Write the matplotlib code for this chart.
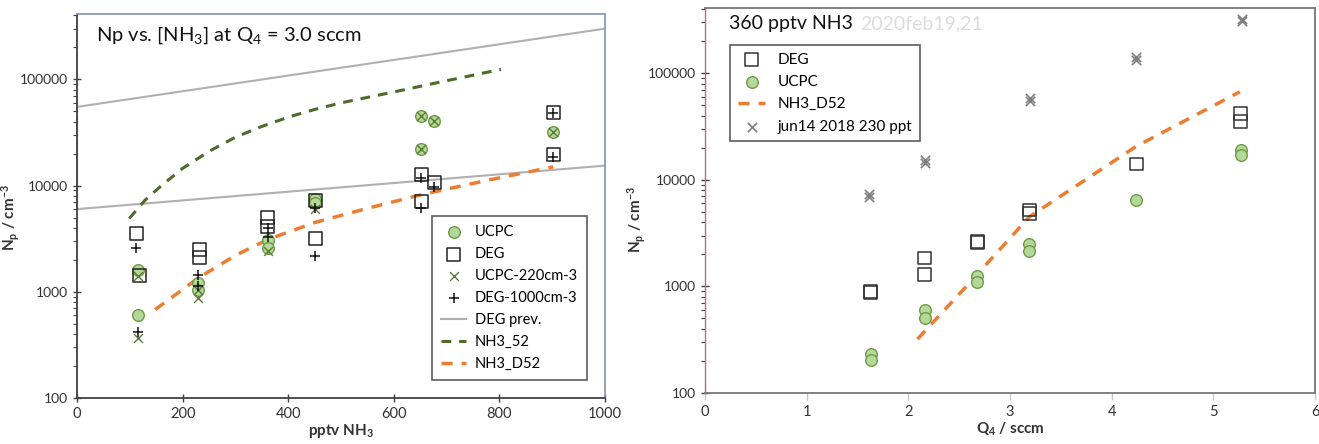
import numpy as np
import matplotlib
matplotlib.use("Agg")
import matplotlib.pyplot as plt
from matplotlib.ticker import FixedLocator, FuncFormatter, LogLocator, NullFormatter

plt.rcParams['font.family'] = ['Lato', 'DejaVu Sans']
plt.rcParams['mathtext.fontset'] = 'custom'
plt.rcParams['mathtext.rm'] = 'Lato'
plt.rcParams['mathtext.it'] = 'Lato:italic'
plt.rcParams['mathtext.bf'] = 'Lato:bold'

# ---- left panel: Np vs NH3 at Q4 = 3.0 sccm ----
ucpc_x = [115, 115, 230, 230, 361, 361, 451, 451, 652, 652, 677, 902]
ucpc_y = [1620, 600, 1210, 1050, 3100, 2600, 7400, 6800, 45000, 22000, 40500, 32000]

deg_x = [112, 118, 232, 232, 361, 361, 451, 451, 652, 652, 677, 902, 902]
deg_y = [3530, 1420, 2500, 2090, 5040, 4150, 7200, 3150, 12800, 7100, 10700, 49000, 19500]

ucpc220_x = [115, 115, 230, 230, 361, 451, 652, 652, 677, 902]
ucpc220_y = [370, 1420, 880, 1050, 2400, 6000, 45000, 22000, 40500, 32000]

deg1000_x = [112, 115, 230, 230, 361, 361, 451, 451, 652, 652, 677, 902, 902]
deg1000_y = [2580, 420, 1450, 1130, 4000, 3300, 6200, 2150, 11800, 6100, 9700, 48000, 18500]

degprev_x = [1000, 0, 0, 1000]
degprev_y = [15400, 6000, 55000, 300000]

nh3_52_x = [99, 129, 160, 200, 250, 300, 350, 400, 450, 500, 600, 700, 803]
nh3_52_y = [4900, 7300, 10000, 14500, 21000, 28500, 36000, 44000, 52000, 60000, 76000, 97000, 124000]

nh3_d52_x = [148, 230, 300, 361, 451, 550, 652, 777, 902]
nh3_d52_y = [680, 1350, 2200, 3100, 4500, 6100, 8200, 11200, 15000]

# ---- right panel: 360 pptv NH3 ----
q_deg = [1.63, 1.63, 2.16, 2.16, 2.68, 2.68, 3.19, 3.19, 4.24, 5.27, 5.27]
r_deg = [900, 880, 1850, 1300, 2600, 2620, 5200, 4800, 14100, 42000, 35000]

q_ucpc = [1.63, 1.63, 2.16, 2.16, 2.68, 2.68, 3.19, 3.19, 4.24, 5.27, 5.27]
r_ucpc = [230, 205, 600, 500, 1260, 1100, 2500, 2170, 6500, 19200, 17100]

q_d52 = [2.09, 2.57, 3.19, 4.24, 5.26]
r_d52 = [320, 1000, 4500, 20600, 67000]

q_jun = [1.61, 1.61, 2.16, 2.16, 3.20, 3.20, 4.24, 4.24, 5.28, 5.28]
r_jun = [7300, 6900, 15200, 14400, 58500, 55500, 142000, 134000, 325000, 307000]

green_face = '#b4d79a'
green_edge = '#6f9a45'
orange = '#ed7d31'
olive = '#4f6a2b'
tick_col = '#404040'

fig = plt.figure(figsize=(13.19, 4.44), dpi=100)
ax1 = fig.add_axes([0.0584, 0.1036, 0.4003, 0.8644])
ax2 = fig.add_axes([0.5345, 0.1150, 0.4625, 0.8670])

dash = (0, (3.2, 2.6))

# left
ax1.plot(degprev_x, degprev_y, color='#b0b0b0', lw=1.5, label='DEG prev.', zorder=1)
ax1.plot(nh3_52_x, nh3_52_y, color=olive, lw=2.2, linestyle=dash, label='NH3_52', zorder=2)
ax1.plot(nh3_d52_x, nh3_d52_y, color=orange, lw=2.5, linestyle=dash, label='NH3_D52', zorder=2)
ax1.scatter(ucpc_x, ucpc_y, s=70, marker='o', facecolor=green_face,
            edgecolor=green_edge, linewidth=1.0, label='UCPC', zorder=3)
ax1.scatter(deg_x, deg_y, s=85, marker='s', facecolor='none',
            edgecolor='#222222', linewidth=1.1, label='DEG', zorder=4)
ax1.scatter(ucpc220_x, ucpc220_y, s=40, marker='x', color='#5b7a35',
            linewidth=1.0, label='UCPC-220cm-3', zorder=5)
ax1.scatter(deg1000_x, deg1000_y, s=50, marker='+', color='#111111',
            linewidth=1.1, label='DEG-1000cm-3', zorder=5)

handles, labels = ax1.get_legend_handles_labels()
order = ['UCPC', 'DEG', 'UCPC-220cm-3', 'DEG-1000cm-3', 'DEG prev.', 'NH3_52', 'NH3_D52']
hd = dict(zip(labels, handles))
leg1 = ax1.legend([hd[k] for k in order], order, loc='lower right',
                  bbox_to_anchor=(0.979, 0.028), fontsize=10.5, frameon=True,
                  fancybox=False, edgecolor='#333333', handlelength=1.7,
                  handletextpad=0.6, labelspacing=0.55, borderpad=0.6)
leg1.get_frame().set_linewidth(1.2)

ax1.set_xlim(0, 1000)
ax1.set_yscale('log')
ax1.set_ylim(100, 4.1e5)
ax1.text(0.036, 0.944, r'Np vs. [NH$_3$] at Q$_4$ = 3.0 sccm', transform=ax1.transAxes,
         fontsize=14.5, va='center', ha='left', color='#111111')
ax1.set_xlabel(r'pptv NH$_\mathbf{3}$', fontsize=11, fontweight='bold',
               color='#333333', labelpad=1)
ax1.set_ylabel(r'N$_\mathbf{p}$ / cm$^\mathbf{-3}$', fontsize=11, fontweight='bold',
               color='#333333')
ax1.yaxis.set_label_coords(-0.105, 0.47)

# right
h_rdeg = ax2.scatter(q_deg, r_deg, s=85, marker='s', facecolor='none',
                     edgecolor='#333333', linewidth=1.1, label='DEG', zorder=4)
h_rucpc = ax2.scatter(q_ucpc, r_ucpc, s=70, marker='o', facecolor=green_face,
                      edgecolor=green_edge, linewidth=1.0, label='UCPC', zorder=3)
h_rd52, = ax2.plot(q_d52, r_d52, color=orange, lw=2.5, linestyle=dash,
                   label='NH3_D52', zorder=2)
h_jun = ax2.scatter(q_jun, r_jun, s=45, marker='x', color='#7f7f7f',
                    linewidth=1.2, label='jun14 2018 230 ppt', zorder=3)
leg2 = ax2.legend([h_rdeg, h_rucpc, h_rd52, h_jun],
                  ['DEG', 'UCPC', 'NH3_D52', 'jun14 2018 230 ppt'],
                  loc='upper left', bbox_to_anchor=(0.029, 0.924), fontsize=11,
                  frameon=True, fancybox=False, edgecolor='#333333',
                  handlelength=1.8, labelspacing=0.55, borderpad=0.5)
leg2.get_frame().set_linewidth(1.2)

ax2.set_xlim(0, 6)
ax2.set_yscale('log')
ax2.set_ylim(100, 4.1e5)
t_main = ax2.text(0.039, 0.959, '360 pptv NH3 ', transform=ax2.transAxes, fontsize=14,
                  va='center', ha='left', color='#111111')
ax2.annotate('2020feb19,21', xy=(1, 0.5), xycoords=t_main, xytext=(2, 0),
             textcoords='offset points', fontsize=14, va='center', ha='left',
             color='#dcdcdc')
ax2.set_xlabel(r'Q$_\mathbf{4}$ / sccm', fontsize=11, fontweight='bold',
               color='#333333', labelpad=1)
ax2.set_ylabel(r'N$_\mathbf{p}$ / cm$^\mathbf{-3}$', fontsize=11, fontweight='bold',
               color='#333333')
ax2.yaxis.set_label_coords(-0.093, 0.45)

fmt = FuncFormatter(lambda v, p: f'{v:.0f}')
for ax in (ax1, ax2):
    ax.yaxis.set_major_locator(FixedLocator([100, 1000, 10000, 100000]))
    ax.yaxis.set_major_formatter(fmt)
    ax.yaxis.set_minor_locator(LogLocator(base=10, subs=np.arange(2, 10), numticks=20))
    ax.yaxis.set_minor_formatter(NullFormatter())
    ax.tick_params(axis='both', which='major', labelsize=10, colors=tick_col,
                   labelcolor='#333333', direction='inout', length=6, width=1)
    ax.tick_params(axis='y', which='minor', direction='out', length=3,
                   width=0.8, colors=tick_col)
    ax.set_facecolor('white')

ax1.set_xticks([0, 200, 400, 600, 800, 1000])
ax2.set_xticks([0, 1, 2, 3, 4, 5, 6])
ax2.tick_params(axis='x', which='major', colors='#c8c8c8', labelcolor='#333333',
                direction='out', length=5, labelsize=10.5)
ax1.tick_params(axis='x', which='major', labelsize=10.5)

for s in ('left', 'bottom'):
    ax1.spines[s].set_color('#404040')
    ax1.spines[s].set_linewidth(1.3)
for s in ('top', 'right'):
    ax1.spines[s].set_color('#8a9ab5')
    ax1.spines[s].set_linewidth(1.3)

for s in ('top', 'right', 'bottom'):
    ax2.spines[s].set_color('#777777')
    ax2.spines[s].set_linewidth(1.3)
ax2.spines['left'].set_color('#b5706a')
ax2.spines['left'].set_linewidth(1.0)

fig.savefig('out.png', dpi=100)
